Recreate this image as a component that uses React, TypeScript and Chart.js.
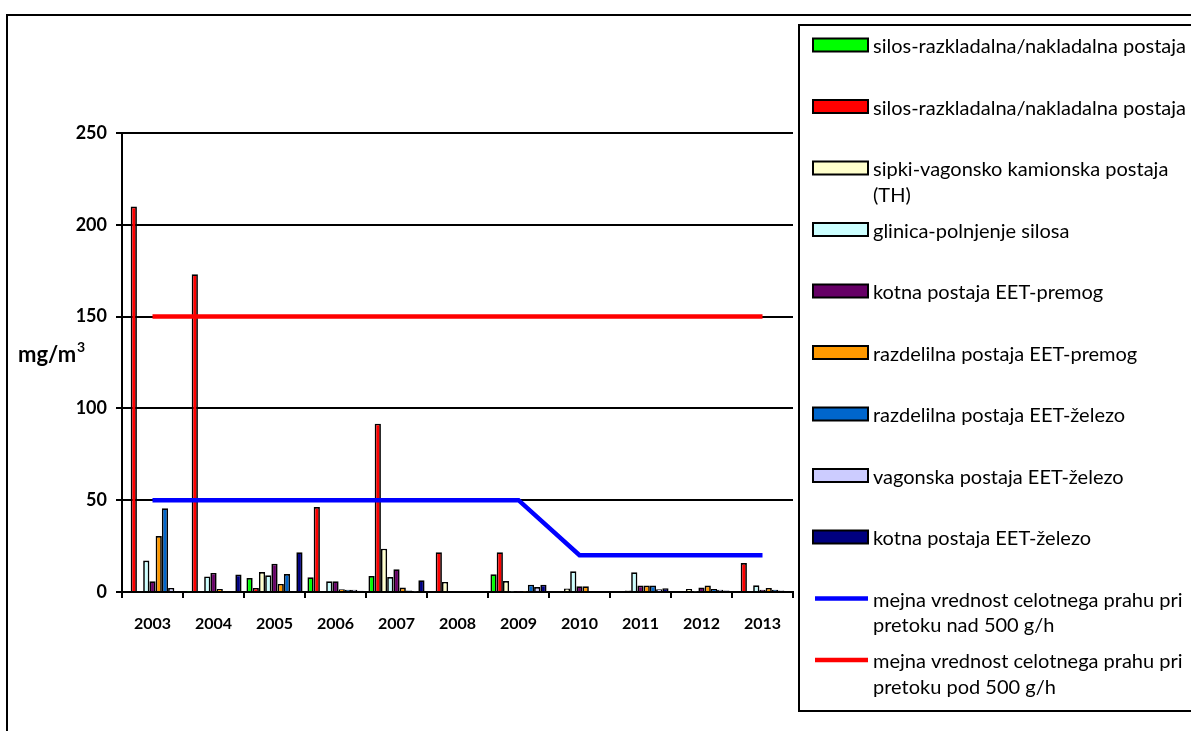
import { useEffect, useRef } from "react";
import { Chart, registerables } from "chart.js";

Chart.register(...registerables);

// Years on the category axis
const years = ["2003", "2004", "2005", "2006", "2007", "2008", "2009", "2010", "2011", "2012", "2013"];

// Measured dust concentrations (mg/m3) per emission point
const silosGreen = [0, 0.3, 7.6, 8, 8.7, 0, 9.6, 0, 0, 0, 0];
const silosRed = [210, 173, 2.2, 46.3, 91.7, 21.6, 21.6, 0, 0, 0, 15.8];
const sipkiTH = [0, 0, 10.9, 0.5, 23.6, 5.5, 6, 1.9, 0.8, 1.6, 0];
const glinica = [17.1, 8.5, 9.1, 5.8, 8.2, 0, 0.3, 11.3, 10.7, 0.3, 3.7];
const kotnaPremog = [5.8, 10.4, 15.4, 5.8, 12.4, 0, 0.3, 3.1, 3.5, 2.5, 1.2];
const razdelilnaPremog = [30.5, 1.6, 4.4, 1.5, 2.4, 0, 0.3, 3.1, 3.5, 3.5, 2.2];
const razdelilnaZelezo = [45.6, 0, 9.8, 1.2, 0.8, 0, 4, 0, 3.5, 1.6, 1.2];
const vagonskaZelezo = [2.2, 0, 0, 1.2, 0.3, 0, 2.7, 0, 1.5, 1.2, 0.8];
const kotnaZelezo = [0, 9.5, 21.6, 0.7, 6.4, 0, 4, 0, 2, 0.8, 0.5];

// Emission limit values
const limitOver500 = [50, 50, 50, 50, 50, 50, 50, 20, 20, 20, 20];
const limitUnder500 = [150, 150, 150, 150, 150, 150, 150, 150, 150, 150, 150];

// Y axis ticks
const yMin = 0;
const yMax = 250;
const yStep = 50;
const yTitle = "mg/m";
const yTitleSup = "3";

const barSeries = [
  { label: "silos-razkladalna/nakladalna postaja", data: silosGreen, color: "#00FF00" },
  { label: "silos-razkladalna/nakladalna postaja", data: silosRed, color: "#FF0000" },
  { label: "sipki-vagonsko kamionska postaja (TH)", data: sipkiTH, color: "#FFFFCC" },
  { label: "glinica-polnjenje silosa", data: glinica, color: "#CCFFFF" },
  { label: "kotna postaja EET-premog", data: kotnaPremog, color: "#660066" },
  { label: "razdelilna postaja EET-premog", data: razdelilnaPremog, color: "#FF9900" },
  { label: "razdelilna postaja EET-železo", data: razdelilnaZelezo, color: "#0066CC" },
  { label: "vagonska postaja EET-železo", data: vagonskaZelezo, color: "#CCCCFF" },
  { label: "kotna postaja EET-železo", data: kotnaZelezo, color: "#000080" },
];

const lineSeries = [
  { label: "mejna vrednost celotnega prahu pri pretoku nad 500 g/h", data: limitOver500, color: "#0000FF" },
  { label: "mejna vrednost celotnega prahu pri pretoku pod 500 g/h", data: limitUnder500, color: "#FF0000" },
];

const FONT = "Lato, 'Open Sans', sans-serif";

function wrapText(ctx: CanvasRenderingContext2D, text: string, maxWidth: number): string[] {
  const words = text.split(" ");
  const lines: string[] = [];
  let current = "";
  for (const w of words) {
    const trial = current ? current + " " + w : w;
    if (ctx.measureText(trial).width > maxWidth && current) {
      lines.push(current);
      current = w;
    } else {
      current = trial;
    }
  }
  if (current) lines.push(current);
  return lines;
}

// Draws the outer frame, the y axis caption and the boxed legend
const framePlugin = {
  id: "frameAndLegend",
  afterDraw(chart: any) {
    const ctx: CanvasRenderingContext2D = chart.ctx;
    ctx.save();
    ctx.strokeStyle = "#000";
    ctx.lineWidth = 2;
    ctx.strokeRect(7, 15, 1400, 1400);

    ctx.fillStyle = "#000";
    ctx.font = `bold 22px ${FONT}`;
    ctx.textAlign = "left";
    ctx.textBaseline = "alphabetic";
    ctx.fillText(yTitle, 18, 362);
    const tw = ctx.measureText(yTitle).width;
    ctx.font = `bold 14px ${FONT}`;
    ctx.fillText(yTitleSup, 18 + tw + 1, 352);

    // legend box
    ctx.textBaseline = "middle";
    ctx.lineWidth = 2;
    ctx.strokeRect(799, 25, 600, 686);

    const swX = 813;
    const swW = 55;
    const textX = 873;
    const firstY = 45;
    const stepY = 61.5;
    ctx.font = `20px ${FONT}`;
    chart.data.datasets.forEach((ds: any, i: number) => {
      const cy = firstY + i * stepY;
      if (ds.type === "line") {
        ctx.strokeStyle = ds.borderColor;
        ctx.lineWidth = 4.5;
        ctx.beginPath();
        ctx.moveTo(swX + 2, cy);
        ctx.lineTo(swX + swW, cy);
        ctx.stroke();
      } else {
        ctx.fillStyle = ds.backgroundColor;
        ctx.fillRect(swX, cy - 6.5, swW, 13);
        ctx.strokeStyle = "#000";
        ctx.lineWidth = 2;
        ctx.strokeRect(swX, cy - 6.5, swW, 13);
      }
      ctx.fillStyle = "#000";
      const lines = wrapText(ctx, ds.label, 318);
      lines.forEach((ln, k) => ctx.fillText(ln, textX, cy + 2 + k * 25.5));
    });
    ctx.restore();
  },
};

export default function App() {
  const canvasRef = useRef<HTMLCanvasElement | null>(null);

  useEffect(() => {
    if (!canvasRef.current) return;
    const datasets: any[] = [
      ...barSeries.map((s) => ({
        type: "bar",
        label: s.label,
        data: s.data,
        backgroundColor: s.color,
        borderColor: "#000",
        borderWidth: 1.7,
        categoryPercentage: 0.92,
        barPercentage: 1,
        order: 1,
      })),
      ...lineSeries.map((s) => ({
        type: "line",
        label: s.label,
        data: s.data,
        borderColor: s.color,
        backgroundColor: s.color,
        borderWidth: 4.5,
        pointRadius: 0,
        tension: 0,
        fill: false,
        order: 0,
      })),
    ];

    const chart = new Chart(canvasRef.current, {
      type: "bar",
      data: { labels: years, datasets },
      options: {
        responsive: false,
        maintainAspectRatio: false,
        animation: false,
        layout: { padding: { top: 133, right: 398, left: 0, bottom: 0 } },
        plugins: {
          legend: { display: false },
          tooltip: { enabled: false },
        },
        scales: {
          x: {
            afterFit: (scale: any) => {
              scale.height = 139;
            },
            grid: {
              offset: true,
              drawOnChartArea: false,
              drawTicks: true,
              tickLength: 6,
              color: "#000",
              lineWidth: 2,
            },
            border: { display: true, color: "#000", width: 2 },
            ticks: {
              color: "#000",
              padding: 16,
              font: { family: FONT, size: 16, weight: "bold" },
            },
          },
          y: {
            min: yMin,
            max: yMax,
            afterFit: (scale: any) => {
              scale.width = 122;
            },
            ticks: {
              stepSize: yStep,
              color: "#000",
              padding: 9,
              font: { family: FONT, size: 18, weight: "bold" },
            },
            grid: {
              color: "#000",
              lineWidth: 2,
              drawTicks: true,
              tickLength: 6,
            },
            border: { display: true, color: "#000", width: 2 },
          },
        },
      },
      plugins: [framePlugin],
    } as any);

    return () => chart.destroy();
  }, []);

  return (
    <div style={{ position: "absolute", left: 0, top: 0, width: 1191, height: 731, background: "#fff" }}>
      <canvas ref={canvasRef} width={1191} height={731} style={{ display: "block" }} />
    </div>
  );
}
